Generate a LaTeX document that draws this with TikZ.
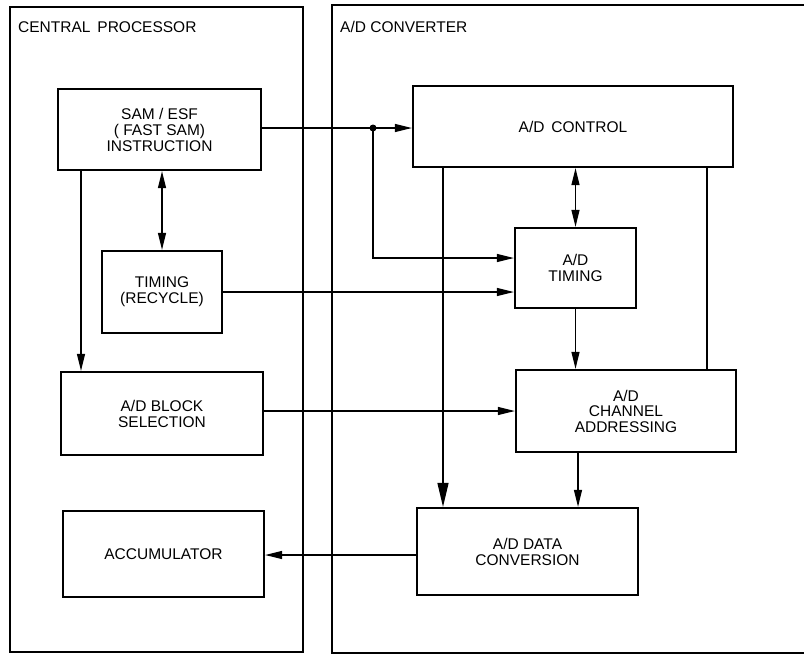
\documentclass[tikz,border=0pt]{standalone}
\usepackage{fontspec}
\setmainfont{Liberation Sans}
\usetikzlibrary{arrows.meta}
\begin{document}
\begin{tikzpicture}[x=1pt,y=-1pt,
  blk/.style={draw,line width=2.2pt,inner sep=0pt,align=center,
    font=\fontsize{15.5pt}{16pt}\selectfont},
  frame/.style={draw,line width=2.2pt},
  ttl/.style={anchor=base west,inner sep=0pt,font=\fontsize{15.5pt}{16pt}\selectfont},
  tip/.tip={Triangle[length=17pt,width=8pt]},
  bigtip/.tip={Triangle[length=24pt,width=11pt]},
  conn/.style={line width=1.3pt,-tip},
  connbig/.style={line width=1.3pt,-bigtip},
  conn2/.style={line width=1.3pt,tip-tip},
  plain/.style={line width=1.3pt}]
\useasboundingbox (0,0) rectangle (804,656);
% outer frames
\draw[frame] (10,7) rectangle (303,652);
\draw[frame] (332,5) rectangle (815,653);
\node[ttl] (cpt) at (18,32) {CENTRAL\, PROCESSOR};
\node[ttl] (adt) at (340,32) {A/D CONVERTER};
% blocks
\node[blk,minimum width=203pt,minimum height=81pt] (sam) at (159.5,129.5) {SAM / ESF\\( FAST SAM)\\INSTRUCTION};
\node[blk,minimum width=120pt,minimum height=82pt] (tim) at (162,292) {TIMING\\(RECYCLE)};
\node[blk,minimum width=202pt,minimum height=83pt] (blksel) at (162,413.5) {A/D BLOCK\\SELECTION};
\node[blk,minimum width=201pt,minimum height=86pt] (acc) at (163.5,554) {ACCUMULATOR};
\node[blk,minimum width=320pt,minimum height=81pt] (ctl) at (573,126.5) {A/D\, CONTROL};
\node[blk,minimum width=121pt,minimum height=80pt] (adtim) at (575.5,268) {A/D\\TIMING};
\node[blk,minimum width=220pt,minimum height=82pt,font=\fontsize{15.5pt}{15.5pt}\selectfont] (chan) at (626,411) {A/D\\CHANNEL\\ADDRESSING};
\node[blk,minimum width=221pt,minimum height=87pt] (data) at (527.5,551.5) {A/D DATA\\CONVERSION};
% connectors
\coordinate (j) at (373,128);
\draw[conn] (sam.east |- j) -- (j -| ctl.west);
\fill (j) circle (3.5pt);
\draw[conn] (j) |- ([yshift=10pt]adtim.west);
\draw[conn] (tim.east) -- (tim.east -| adtim.west);
\draw[conn] (sam.south -| 81,0) -- (blksel.north -| 81,0);
\draw[conn2] (sam.south -| tim.north) -- (tim.north);
\draw[conn] (blksel.east |- 0,411) -- (chan.west);
\draw[conn] (data.west |- 0,555) -- (acc.east |- 0,555);
\draw[connbig] (ctl.south -| 443,0) -- (data.north -| 443,0);
\draw[conn2] (ctl.south -| adtim.north) -- (adtim.north);
\draw[conn] (adtim.south) -- (adtim.south |- chan.north);
\draw[plain] (ctl.south -| 707,0) -- (chan.north -| 707,0);
\draw[conn] (chan.south -| 578,0) -- (data.north -| 578,0);
\end{tikzpicture}
\end{document}
